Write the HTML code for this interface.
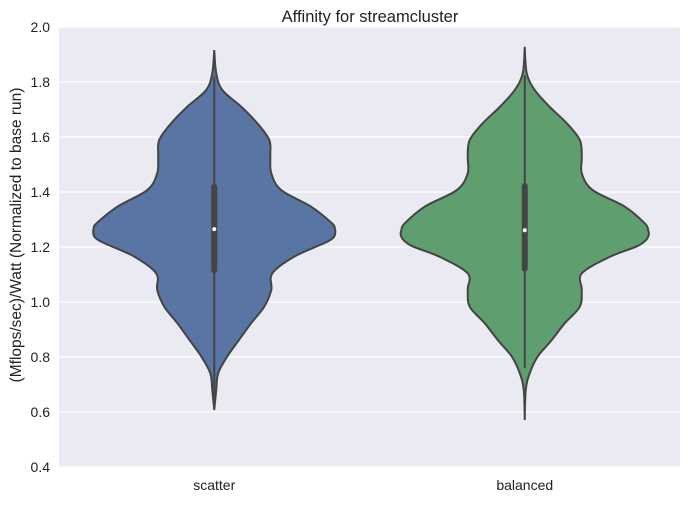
<!DOCTYPE html>
<html><head><meta charset="utf-8"><style>
body{margin:0;background:#fff;}
svg text{font-family:"Liberation Sans",Arial,sans-serif;}
</style></head><body>
<svg id="chart" width="688" height="502" xmlns="http://www.w3.org/2000/svg">
<rect x="59" y="27" width="621" height="440" fill="#eaeaf2"/>
<g id="grid"></g><g id="violins"></g><g id="axes"></g>
<text x="370" y="22" text-anchor="middle" font-size="16.5" fill="#222">Affinity for streamcluster</text>
<text transform="translate(21,235) rotate(-90)" text-anchor="middle" font-size="15.5" fill="#222">(Mflops/sec)/Watt (Normalized to base run)</text>
</svg>
<script>
const categories=["scatter","balanced"];
const colors=["#5875a4","#5f9e6e"];
const yTicks=[0.4,0.6,0.8,1.0,1.2,1.4,1.6,1.8,2.0];
const scatterY=[1.916,1.832,1.771,1.710,1.650,1.589,1.529,1.468,1.407,1.347,1.286,1.268,1.253,1.235,1.214,1.165,1.104,1.044,0.983,0.923,0.862,0.802,0.741,0.680,0.607];
const scatterD=[0,0.016,0.065,0.218,0.347,0.444,0.452,0.46,0.54,0.78,0.95,0.972,0.976,0.962,0.887,0.645,0.468,0.46,0.403,0.298,0.2,0.105,0.032,0.016,0];
const balancedY=[1.928,1.832,1.771,1.710,1.650,1.589,1.529,1.468,1.407,1.347,1.286,1.262,1.244,1.224,1.202,1.164,1.104,1.044,0.983,0.923,0.862,0.802,0.741,0.680,0.571];
const balancedD=[0,0.016,0.08,0.2,0.339,0.444,0.46,0.46,0.548,0.806,0.968,0.995,1.0,0.975,0.903,0.685,0.46,0.46,0.444,0.323,0.218,0.105,0.04,0.008,0];
const q1=[1.116,1.122],q3=[1.419,1.422],medians=[1.265,1.261];
const whiskLo=[0.65,0.76],whiskHi=[1.82,1.824];
const NS="http://www.w3.org/2000/svg";
const x0=59,x1=680,yTop=27,yBot=467,vmin=0.4,vmax=2.0,maxHalf=124;
const y=v=>yBot-(v-vmin)/(vmax-vmin)*(yBot-yTop);
const band=(x1-x0)/categories.length;
const xc=i=>x0+band*(i+0.5);
function mk(tag,attrs,parent){const e=document.createElementNS(NS,tag);for(const k in attrs)e.setAttribute(k,attrs[k]);parent.appendChild(e);return e;}
const grid=document.getElementById('grid'),axes=document.getElementById('axes'),vg=document.getElementById('violins');
yTicks.forEach(t=>{
 const l=mk('line',{x1:x0,x2:x1,y1:y(t),y2:y(t),stroke:'#fff','stroke-width':1.2},grid);
 
 
 const tx=mk('text',{x:x0-9,y:y(t)+5,'text-anchor':'end','font-size':14,fill:'#222'},axes);
 tx.textContent=t.toFixed(1);
 
 
});
function spline(pts){let d='M'+pts[0][0]+','+pts[0][1];
 for(let i=0;i<pts.length-1;i++){const p0=pts[Math.max(0,i-1)],p1=pts[i],p2=pts[i+1],p3=pts[Math.min(pts.length-1,i+2)];
  const c1=[p1[0]+(p2[0]-p0[0])/6,p1[1]+(p2[1]-p0[1])/6],c2=[p2[0]-(p3[0]-p1[0])/6,p2[1]-(p3[1]-p1[1])/6];
  d+=' C'+c1[0].toFixed(2)+','+c1[1].toFixed(2)+' '+c2[0].toFixed(2)+','+c2[1].toFixed(2)+' '+p2[0].toFixed(2)+','+p2[1].toFixed(2);}
 return d;}
const Ys=[scatterY,balancedY],Ds=[scatterD,balancedD];
categories.forEach((c,i)=>{
 const cx=xc(i);
 const right=Ys[i].map((v,k)=>[cx+Ds[i][k]*maxHalf,y(v)]);
 const left=Ys[i].map((v,k)=>[cx-Ds[i][k]*maxHalf,y(v)]).reverse();
 const d=spline(right)+' L'+spline(left).slice(1)+' Z';
 const p=mk('path',{d:d,fill:colors[i],stroke:'#444','stroke-width':2},vg);
 
 
 const w=mk('line',{x1:cx,x2:cx,y1:y(whiskLo[i]),y2:y(whiskHi[i]),stroke:'#444','stroke-width':2},vg);
 
 
 const b=mk('line',{x1:cx,x2:cx,y1:y(q1[i]),y2:y(q3[i]),stroke:'#444','stroke-width':6,'stroke-linecap':'round'},vg);
 
 
 const m=mk('circle',{cx:cx,cy:y(medians[i]),r:2,fill:'#fff'},vg);
 
 
 const t=mk('text',{x:cx,y:490,'text-anchor':'middle','font-size':14,fill:'#222'},axes);
 t.textContent=c;
 
 
});
</script>
</body></html>
